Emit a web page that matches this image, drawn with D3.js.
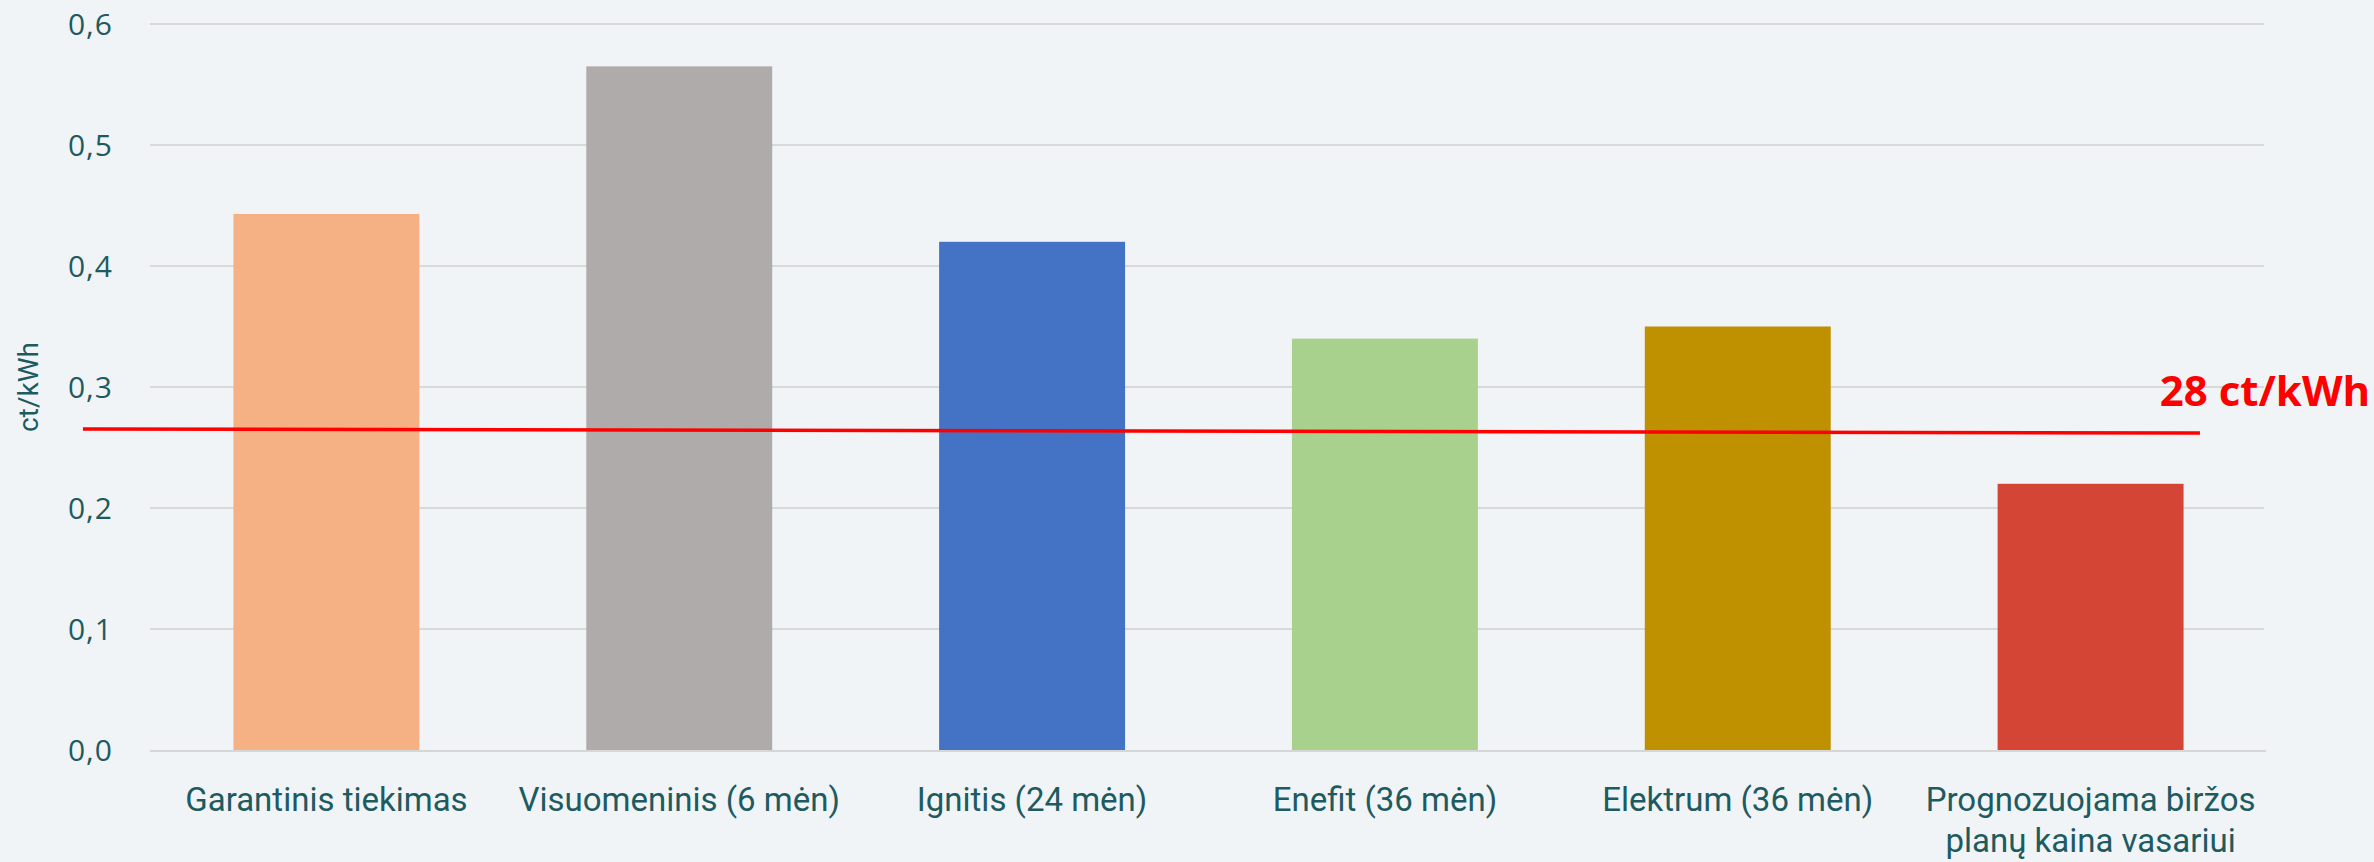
<!DOCTYPE html>
<html><head><meta charset="utf-8">
<script src="https://cdn.jsdelivr.net/npm/d3@7"></script>
<style>html,body{margin:0;padding:0;background:#F0F4F7;}svg{display:block;}</style>
</head><body>
<svg id="c" width="2374" height="862"></svg>
<script>
const categories = [
  ["Garantinis tiekimas"],
  ["Visuomeninis (6 mėn)"],
  ["Ignitis (24 mėn)"],
  ["Enefit (36 mėn)"],
  ["Elektrum (36 mėn)"],
  ["Prognozuojama biržos", "planų kaina vasariui"]
];
const values = [0.443, 0.565, 0.42, 0.34, 0.35, 0.22];
const colors = ["#F5B183", "#AFABAB", "#4472C4", "#A9D18E", "#BF9000", "#D44535"];
const yTicks = [0, 0.1, 0.2, 0.3, 0.4, 0.5, 0.6];
const yTickLabels = ["0,0", "0,1", "0,2", "0,3", "0,4", "0,5", "0,6"];
const yTitle = "ct/kWh";
// reference line: positions in category-index units, values in ct/kWh axis units
const refLine = [{pos: -0.69, v: 0.2653}, {pos: 5.31, v: 0.262}];
const refLabel = {text: "28 ct/kWh", pos: 5.196, v: 0.284};

const svg = d3.select("#c");
const W = 2374, H = 862;
const mLeft = 150, mRight = 2267, mTop = 24, mBottom = 750;
const textColor = "#1E5B60";

svg.append("rect").attr("width", W).attr("height", H).attr("fill", "#F0F4F7");

const keys = categories.map((c, i) => i);
const x = d3.scaleBand().domain(keys).range([mLeft, mRight]).paddingInner(0.473).paddingOuter(0.2365);
const xi = d3.scaleLinear().domain([-0.5, 5.5]).range([mLeft, mRight]);
const y = d3.scaleLinear().domain([0, 0.6]).range([mBottom, mTop]);

// gridlines
svg.append("g").selectAll("line").data(yTicks.filter(t => t > 0)).join("line")
  .attr("x1", mLeft).attr("x2", mRight - 3)
  .attr("y1", d => y(d)).attr("y2", d => y(d))
  .attr("stroke", "#D9D9D9").attr("stroke-width", 2);

// y tick labels
svg.append("g").selectAll("text").data(yTicks).join("text")
  .attr("x", 113).attr("y", d => y(d))
  .attr("dy", "0.36em")
  .attr("text-anchor", "end")
  .attr("font-family", "Open Sans").attr("font-size", 30).attr("letter-spacing", 1)
  .attr("fill", textColor)
  .text((d, i) => yTickLabels[i]);

// y title
svg.append("text")
  .attr("transform", `translate(38,${y(0.3)}) rotate(-90)`)
  .attr("text-anchor", "middle")
  .attr("font-family", "Roboto").attr("font-size", 28)
  .attr("fill", textColor)
  .text(yTitle);

// bars
svg.append("g").selectAll("rect").data(values).join("rect")
  .attr("x", (d, i) => x(i)).attr("width", x.bandwidth())
  .attr("y", d => y(d)).attr("height", d => y(0) - y(d))
  .attr("fill", (d, i) => colors[i]);

// baseline axis
svg.append("line").attr("x1", mLeft).attr("x2", mRight - 1)
  .attr("y1", y(0) + 1).attr("y2", y(0) + 1)
  .attr("stroke", "#D6D6D6").attr("stroke-width", 2);

// category labels
const lab = svg.append("g").selectAll("text").data(categories).join("text")
  .attr("x", (d, i) => x(i) + x.bandwidth() / 2)
  .attr("y", 811)
  .attr("text-anchor", "middle")
  .attr("font-family", "Roboto").attr("font-size", 33)
  .attr("fill", textColor);
lab.selectAll("tspan").data(d => d).join("tspan")
  .attr("x", function() { return d3.select(this.parentNode).attr("x"); })
  .attr("dy", (d, j) => j === 0 ? 0 : 41)
  .text(d => d);

// reference line
svg.append("path")
  .attr("d", d3.line().x(d => xi(d.pos)).y(d => y(d.v))(refLine))
  .attr("stroke", "#FF0000").attr("stroke-width", 3.5).attr("fill", "none");

svg.append("text")
  .attr("x", xi(refLabel.pos)).attr("y", y(refLabel.v))
  .attr("font-family", "Open Sans").attr("font-weight", "bold").attr("font-size", 42)
  .attr("fill", "#FF0000")
  .text(refLabel.text);
</script>
</body></html>
